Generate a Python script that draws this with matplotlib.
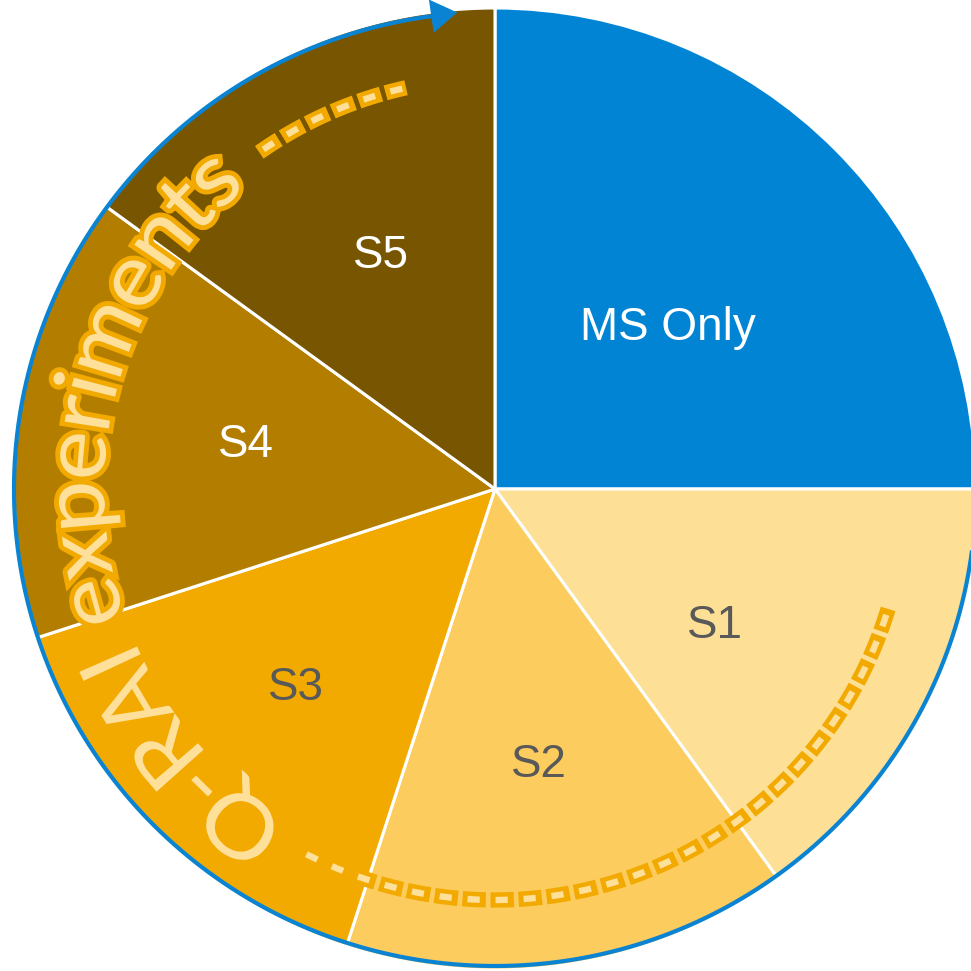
import matplotlib
matplotlib.use('Agg')
import matplotlib.pyplot as plt
import numpy as np
from matplotlib.textpath import TextPath
from matplotlib.font_manager import FontProperties
from matplotlib.path import Path
from matplotlib.patches import PathPatch
import matplotlib.patheffects as pe

# dash lengths below are given in points, not in multiples of the line width
plt.rcParams['lines.scale_dashes'] = False

labels = ['MS Only', 'S1', 'S2', 'S3', 'S4', 'S5']
shares = [25, 15, 15, 15, 15, 15]
colors = ['#0284D4', '#FDDF96', '#FDCC5E', '#F2AA00', '#B37E00', '#785500']
label_colors = ['white', '#595959', '#595959', '#595959', 'white', 'white']
label_radius = [236, 259, 279, 281, 253, 259]
label_shift = [-2, -5, 0, 0, -1, -1]   # degrees off the wedge middle

arc_text = 'Q-RAI experiments'
blue = '#0A84D2'
gold = '#F2AA00'
cream = '#FFE09A'

cx, cy, R = 495, 482, 481

fig = plt.figure(figsize=(9.71, 9.71), dpi=100)
ax = fig.add_axes([0, 0, 1, 1])
wedges, _ = ax.pie(shares, colors=colors, startangle=90, counterclock=False,
                   center=(cx, cy), radius=R,
                   wedgeprops=dict(edgecolor='white', linewidth=2.2))
ax.set_xlim(0, 971)
ax.set_ylim(0, 971)
ax.set_aspect('equal')
ax.axis('off')

for w, lab, col, r, d in zip(wedges, labels, label_colors, label_radius, label_shift):
    mid = np.deg2rad((w.theta1 + w.theta2) / 2 + d)
    ax.text(cx + r * np.cos(mid), cy + r * np.sin(mid), lab, color=col,
            fontsize=33, ha='center', va='center', family='Liberation Sans')

# blue arrow running clockwise round the S1..S5 part
rbx, rby = 481, 477
th = np.deg2rad(np.linspace(360, 97, 500))
ax.plot(cx + rbx * np.cos(th), cy + rby * np.sin(th), color=blue, lw=3,
        solid_capstyle='butt')
tip = np.deg2rad(94.5)
back = np.deg2rad(99)
ax.annotate('', xy=(cx + rbx * np.cos(tip), cy + rby * np.sin(tip) + 1),
            xytext=(cx + rbx * np.cos(back), cy + rby * np.sin(back)),
            arrowprops=dict(arrowstyle='-|>,head_length=0.7,head_width=0.45',
                            color=blue, lw=0, mutation_scale=27,
                            shrinkA=0, shrinkB=0))

# dashed ring pieces
Rd = 411


def dashed_arc(a0, a1):
    t = np.deg2rad(np.linspace(a0, a1, 300))
    x = cx + Rd * np.cos(t)
    y = cy + Rd * np.sin(t)
    ax.plot(x, y, color=gold, lw=11, linestyle=(0, (16.8, 3.4)),
            dash_capstyle='butt')
    ax.plot(x, y, color=cream, lw=4.6, linestyle=(16.6, (8.8, 11.4)),
            dash_capstyle='butt')


dashed_arc(-118, -16.5)
dashed_arc(125, 102.5)

# curved caption bent along the ring
Rt = 391
fp = FontProperties(family='Lato')
tp = TextPath((0, 0), arc_text, size=88, prop=fp)
verts = tp.vertices.copy()
W = verts[:, 0].max()
center_ang = np.deg2rad(184)
ang = center_ang + (W / 2 - verts[:, 0]) / Rt
rad = Rt + verts[:, 1]
bent = np.column_stack([cx + rad * np.cos(ang), cy + rad * np.sin(ang)])
patch = PathPatch(Path(bent, tp.codes), facecolor=cream, edgecolor='none', lw=0)
patch.set_path_effects([pe.Stroke(linewidth=7, foreground=gold), pe.Normal()])
ax.add_patch(patch)

fig.savefig('out.png', dpi=100)
